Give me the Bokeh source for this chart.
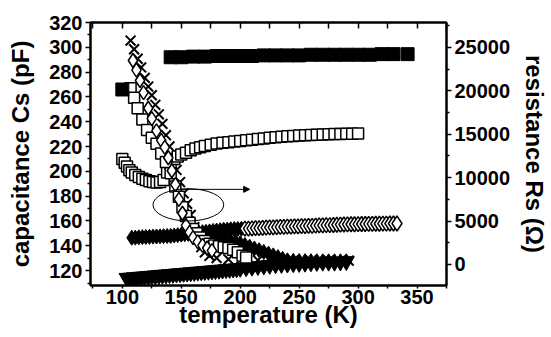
from bokeh.plotting import figure
from bokeh.models import LinearAxis, Range1d, Arrow, NormalHead, FixedTicker
from bokeh.embed import file_html
from bokeh.resources import INLINE

# ---------------- data ----------------
# filled squares, capacitance Cs (pF)
t_sq_f = [100, 141, 150, 160, 170, 180, 190, 200, 210, 220, 230, 240, 250,
          260, 270, 280, 290, 300, 310, 320, 330, 342]
cs_sq_f = [266, 292, 292, 292.5, 292.5, 293, 293, 293, 293, 293.5, 293.5, 293.5,
           293.5, 294, 294, 294, 294, 294, 294, 294.5, 294.5, 294.5]

# open squares, capacitance Cs (pF)
t_sq_o = [100, 102, 104, 106, 108, 111, 114, 117, 120, 123, 126, 129, 132, 135,
          138, 141, 144, 147, 150, 154, 158, 162, 166, 170, 175, 180, 185, 190,
          195, 200, 205, 210, 215, 220, 225, 230, 235, 240, 245, 250, 255, 260,
          265, 270, 275, 280, 285, 290, 295, 300]
cs_sq_o = [210, 207, 204, 201, 199, 197, 195.5, 194, 193, 192, 191.5, 191, 191.5, 193,
           199, 206, 210, 212, 213.5, 215, 217, 218.5, 219.5, 220.5, 221.5, 222.5, 223, 223.5,
           224, 224.5, 225, 225.5, 226, 226.5, 227, 227.5, 228, 228.3, 228.6, 229, 229.2, 229.4,
           229.6, 229.8, 230, 230.1, 230.2, 230.3, 230.4, 230.5]

# filled diamonds, capacitance Cs (pF)
t_dia_f = [108, 111, 114, 117, 120, 123, 126, 129, 132, 135, 138, 141, 144, 147,
           150, 153, 156, 159, 162, 165, 168, 171, 174, 177, 180, 183, 186, 189,
           192, 195, 198, 201]
cs_dia_f = [146.5, 146.6, 146.8, 147, 147.1, 147.2, 147.4, 147.5, 147.6, 147.8, 147.9, 148,
            148.3, 148.6, 149, 149.3, 149.6, 150, 150.3, 150.6, 151, 151.3, 151.6, 152,
            152.3, 152.6, 152.9, 153.1, 153.3, 153.5, 153.6, 153.7]

# open diamonds, capacitance Cs (pF)
t_dia_o = [204, 207, 210, 213, 216, 219, 222, 225, 228, 231, 234, 237, 240, 243,
           246, 249, 252, 255, 258, 261, 264, 267, 270, 273, 276, 279, 282, 285,
           288, 291, 294, 297, 300, 303, 306, 309, 312, 315, 318, 321, 324, 327,
           330, 333]
cs_dia_o = [153.8, 153.9, 154, 154.2, 154.3, 154.5, 154.6, 154.8, 154.9, 155, 155.2, 155.3,
            155.4, 155.5, 155.6, 155.7, 155.8, 155.9, 156, 156.1, 156.3, 156.4, 156.5, 156.6,
            156.7, 156.8, 157, 157.1, 157.2, 157.3, 157.4, 157.4, 157.5, 157.6, 157.6, 157.7,
            157.7, 157.8, 157.8, 157.9, 157.9, 158, 158, 158]

# filled down-triangles, capacitance Cs (pF)
t_tri = [104, 107, 110, 113, 116, 119, 122, 125, 128, 131, 134, 137, 140, 143,
         146, 149, 152, 155, 158, 161, 164, 167, 170, 173, 176, 179, 182, 185,
         188, 191, 194, 197, 200, 205, 210, 215, 220, 225, 230, 235, 240, 245,
         250, 255, 260, 265, 270, 275, 280, 285, 290]
cs_tri = [114, 114.2, 114.5, 114.7, 115, 115.2, 115.5, 115.7, 116, 116.2, 116.5, 116.7,
          117, 117.2, 117.5, 117.7, 118, 118.2, 118.5, 118.7, 119, 119.2, 119.5, 119.7,
          120, 120.2, 120.5, 120.7, 121, 121.2, 121.5, 121.7, 122, 122.5, 123, 123.5,
          124, 124.5, 125, 125.2, 125.5, 125.8, 126, 126.2, 126.5, 126.8, 127, 127,
          127, 127.2, 127.5]

# crosses, resistance Rs (Ohm)
t_x = [107, 110, 113, 116, 119, 122, 125, 128, 131, 134, 137, 140, 143, 146, 149,
       152, 155, 158, 161, 164, 167, 170, 174, 180, 190, 200, 215, 230, 245, 260,
       275, 292]
rs_x = [25800, 24800, 23700, 22700, 21500, 20500, 19500, 18400, 17300, 16200, 14900,
        13600, 12300, 10900, 9500, 8200, 7000, 5700, 4300, 3000, 2000, 1400, 1000, 750,
        600, 550, 500, 480, 460, 450, 450, 450]

# open diamonds, resistance Rs (Ohm)
t_rdia = [109, 112, 115, 118, 122, 125, 129, 133, 136, 139, 142, 145, 148, 151, 154,
          157, 160, 164, 168, 172, 176]
rs_rdia = [23500, 22400, 21200, 19800, 18000, 16800, 15400, 14300, 13500, 12300, 10800,
           9200, 7500, 5900, 4500, 3700, 3100, 2600, 2200, 1900, 1600]

# open squares, resistance Rs (Ohm)
t_rsq = [107, 110, 113, 117, 121, 125, 129, 133, 137, 141, 145, 148, 151, 154, 157,
         160, 163, 166, 170, 174, 178, 182, 186, 190, 194, 198, 202, 205]
rs_rsq = [20300, 19200, 18000, 16700, 15500, 14600, 13900, 12800, 11800, 10500, 9000,
          7800, 6600, 5600, 4800, 4100, 3600, 3100, 2700, 2400, 2200, 2100, 2000, 1900,
          1700, 1400, 1000, 800]

# filled diamonds, resistance Rs (Ohm)
t_rfd = [168, 172, 176, 180, 184, 188, 192, 196, 200, 204, 208, 212, 216, 220, 224,
         228, 232, 236, 240, 245, 250, 255, 260, 265, 270, 275, 280, 285, 290]
rs_rfd = [3300, 3200, 3100, 3000, 2900, 2800, 2700, 2600, 2450, 2250, 2050, 1850, 1650,
          1450, 1250, 1050, 850, 650, 480, 420, 400, 390, 380, 375, 370, 370, 370, 370, 370]

x_ticks = [100, 150, 200, 250, 300, 350]
cs_ticks = [120, 140, 160, 180, 200, 220, 240, 260, 280, 300, 320]
rs_ticks = [0, 5000, 10000, 15000, 20000, 25000]
x_title = "temperature (K)"
cs_title = "capacitance Cs (pF)"
rs_title = "resistance Rs (Ω)"

FONT = "Liberation Sans"

p = figure(width=551, height=337, output_backend="svg", toolbar_location=None,
           x_range=Range1d(73, 375), y_range=Range1d(108, 320),
           min_border_left=90, min_border_right=99, min_border_top=22,
           min_border_bottom=52, x_axis_label=x_title, y_axis_label=cs_title)
ax_b = p.below[0]
ax_l = p.left[0]
p.extra_y_ranges = {"rs": Range1d(-2420, 27880)}
p.grid.visible = False
p.outline_line_color = "black"
p.outline_line_width = 2
p.background_fill_color = "white"
p.border_fill_color = "white"

# right axis
ax_r = LinearAxis(y_range_name="rs", axis_label=rs_title)
p.add_layout(ax_r, "right")
# top mirror axis
ax_t = LinearAxis(major_label_text_font_size="0px", major_label_text_color=None)
p.add_layout(ax_t, "above")

for ax in [ax_b, ax_l, ax_r]:
    ax.axis_line_width = 2
    ax.major_tick_line_width = 1.5
    ax.minor_tick_line_width = 1.5
    ax.major_tick_in = 0
    ax.major_tick_out = 5
    ax.minor_tick_in = 0
    ax.minor_tick_out = 3
    ax.major_label_text_font = FONT
    ax.major_label_text_font_style = "bold"
    ax.major_label_text_font_size = "20px"
    ax.major_label_text_color = "black"
    ax.axis_label_text_font = FONT
    ax.axis_label_text_font_style = "bold"
    ax.axis_label_text_font_size = "24px"
    ax.axis_label_text_color = "black"
    ax.major_label_standoff = 3

ax_b.ticker = FixedTicker(ticks=x_ticks, minor_ticks=[75, 125, 175, 225, 275, 325, 375])
ax_t.ticker = FixedTicker(ticks=x_ticks, minor_ticks=[75, 125, 175, 225, 275, 325, 375])
ax_l.ticker = FixedTicker(ticks=cs_ticks, minor_ticks=[110, 130, 150, 170, 190, 210, 230, 250, 270, 290, 310])
ax_r.ticker = FixedTicker(ticks=rs_ticks, minor_ticks=[-2500, 2500, 7500, 12500, 17500, 22500, 27500])
ax_b.major_label_standoff = 1
ax_b.major_tick_out = 3
ax_b.axis_label_standoff = -6
ax_l.axis_label_standoff = 12
ax_r.axis_label_standoff = 8

ax_t.axis_line_width = 2
ax_t.major_tick_in = 6
ax_t.major_tick_out = 0
ax_t.minor_tick_in = 6
ax_t.minor_tick_out = 0
ax_t.major_tick_line_width = 1.5
ax_t.minor_tick_line_width = 1.5
ax_t.major_label_standoff = 0

# ---------------- marks ----------------
p.scatter(t_tri, cs_tri, marker="inverted_triangle", size=16, fill_color="black",
          line_color="black", line_width=1)
p.scatter(t_dia_f, cs_dia_f, marker="diamond", size=15, fill_color="black",
          line_color="black", line_width=1)
p.scatter(t_dia_o, cs_dia_o, marker="diamond", size=15, fill_color="white",
          line_color="black", line_width=1.5)
p.scatter(t_rfd, rs_rfd, y_range_name="rs", marker="diamond", size=15,
          fill_color="black", line_color="black", line_width=1)
p.scatter(t_x, rs_x, y_range_name="rs", marker="x", size=14, line_color="black",
          line_width=2)
p.scatter(t_sq_o, cs_sq_o, marker="square", size=11, fill_color="white",
          line_color="black", line_width=1.5)
p.scatter(t_rsq, rs_rsq, y_range_name="rs", marker="square", size=11,
          fill_color="white", line_color="black", line_width=1.5)
p.scatter(t_rdia, rs_rdia, y_range_name="rs", marker="diamond", size=14,
          fill_color="white", line_color="black", line_width=1.5)
p.scatter(t_sq_f, cs_sq_f, marker="square", size=13, fill_color="black",
          line_color="black", line_width=1)

# annotation: ellipse around the resistance curves, arrow to right axis
p.ellipse(x=[156], y=[173], width=60, height=26, fill_color=None,
          line_color="black", line_width=1)
p.add_layout(Arrow(end=NormalHead(size=6, fill_color="black", line_color="black"),
                   x_start=150, y_start=185.5, x_end=208, y_end=185.5,
                   line_color="black", line_width=1))

html = file_html(p, INLINE)
open("out.html", "w").write(html)
